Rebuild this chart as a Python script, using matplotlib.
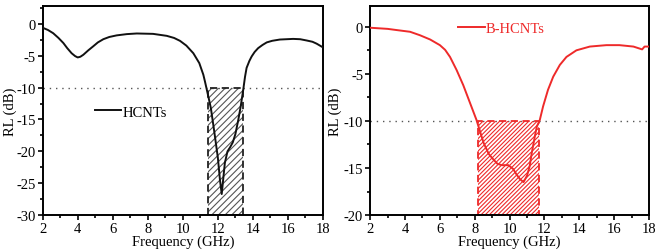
import matplotlib
matplotlib.use("Agg")
import matplotlib.pyplot as plt
from matplotlib.ticker import MultipleLocator
from matplotlib.patches import Rectangle

plt.rcParams['font.family'] = ['Liberation Serif', 'DejaVu Serif']
plt.rcParams['hatch.linewidth'] = 0.8
plt.rcParams['axes.unicode_minus'] = False

# HCNTs
f1 = [2.0, 2.3, 2.6, 2.9, 3.18, 3.4, 3.65, 3.85, 4.0, 4.15, 4.32, 4.6, 4.89, 5.15, 5.46,
      5.8, 6.22, 6.8, 7.37, 8.3, 9.08, 9.5, 9.84, 10.2, 10.6, 10.94, 11.17, 11.26, 11.4,
      11.6, 11.8, 12.0, 12.12, 12.22, 12.3, 12.4, 12.55, 12.69, 12.85, 13.0, 13.17,
      13.3, 13.45, 13.55, 13.64, 13.8, 13.93, 14.1, 14.3, 14.55, 14.79, 15.1, 15.54,
      16.3, 16.7, 17.07, 17.4, 17.64, 17.98]
rl1 = [-0.6, -0.95, -1.46, -2.2, -3.0, -3.8, -4.6, -5.05, -5.26, -5.15, -4.84, -4.15,
       -3.5, -2.9, -2.4, -2.05, -1.8, -1.6, -1.5, -1.56, -1.87, -2.2, -2.66, -3.4, -4.6,
       -6.15, -7.97, -9.0, -10.7, -13.2, -17.0, -21.0, -24.5, -26.7, -24.5, -21.8,
       -20.0, -19.4, -18.6, -17.3, -15.0, -13.0, -10.3, -8.3, -6.9, -5.8, -5.1, -4.4,
       -3.8, -3.3, -2.9, -2.65, -2.45, -2.35, -2.4, -2.6, -2.8, -3.1, -3.65]
band1 = (11.42, 13.45)

# B-HCNTs
f2 = [2.0, 3.0, 3.53, 4.29, 4.86, 5.44, 6.0, 6.3, 6.58, 6.96, 7.34, 7.73, 8.1, 8.3,
      8.5, 8.8, 9.07, 9.3, 9.55, 9.93, 10.2, 10.4, 10.6, 10.8, 11.0, 11.15, 11.27,
      11.45, 11.56, 11.73, 11.92, 12.2, 12.5, 12.88, 13.26, 13.83, 14.6, 15.55, 16.3,
      17.1, 17.6, 17.74, 18.0]
rl2 = [-0.1, -0.22, -0.35, -0.53, -0.9, -1.35, -1.95, -2.45, -3.2, -4.6, -6.2, -8.1,
       -9.9, -11.1, -12.3, -13.5, -14.1, -14.55, -14.7, -14.7, -15.1, -15.7, -16.2,
       -16.5, -15.8, -14.8, -13.4, -11.6, -10.6, -9.9, -8.45, -6.7, -5.3, -4.05, -3.2,
       -2.5, -2.1, -1.95, -1.95, -2.1, -2.4, -2.1, -2.1]
band2 = (8.17, 11.69)

xticks = [2, 4, 6, 8, 10, 12, 14, 16, 18]
red = '#ee2a2a'

fig = plt.figure(figsize=(6.61, 2.53), dpi=100)
ax1 = fig.add_axes([0.0646, 0.146, 0.424, 0.826])
ax2 = fig.add_axes([0.560, 0.146, 0.422, 0.826])

def style(ax, ylim, ymajor, lx):
    ax.set_xlim(2, 18)
    ax.set_ylim(*ylim)
    ax.set_xticks(xticks)
    ax.xaxis.set_minor_locator(MultipleLocator(1))
    ax.yaxis.set_major_locator(MultipleLocator(ymajor))
    ax.yaxis.set_minor_locator(MultipleLocator(ymajor / 2))
    ax.tick_params(which='both', direction='out', top=False, right=False,
                   labelsize=10.5, width=1.2, pad=1.5)
    ax.tick_params(which='major', length=3.5)
    ax.tick_params(which='minor', length=2)
    for s in ax.spines.values():
        s.set_linewidth(1.4)
    ax.set_xlabel('Frequency (GHz)', fontsize=10.5, labelpad=0)
    ax.set_ylabel('RL (dB)', fontsize=10.5)
    ax.yaxis.set_label_coords(lx, 0.5)
    ax.axhline(-10, color='#555555', ls=(0, (1, 3.5)), lw=1.0)

style(ax1, (-30, 2.8), 5, -0.092)
style(ax2, (-20, 2.2), 5, -0.1)

ax1.add_patch(Rectangle((band1[0], -30), band1[1] - band1[0], 20, facecolor='none',
                        edgecolor='#555555', hatch='/////', lw=0, zorder=2))
ax1.add_patch(Rectangle((band1[0], -30), band1[1] - band1[0], 20, facecolor='none',
                        edgecolor='#222222', lw=1.3, ls=(0, (4, 2.5)), zorder=2))
ax1.plot(f1, rl1, color='#111111', lw=1.4, label='HCNTs', zorder=3)

ax2.add_patch(Rectangle((band2[0], -20), band2[1] - band2[0], 10, facecolor='none',
                        edgecolor=red, hatch='////////', lw=1.3, ls=(0, (4, 2.5)),
                        zorder=2))
ax2.plot(f2, rl2, color=red, lw=1.4, label='B-HCNTs', zorder=3)

leg1 = ax1.legend(loc='upper left', bbox_to_anchor=(0.16, 0.56), frameon=False,
                  fontsize=10.5, handlelength=1.8, handletextpad=0.1, borderpad=0)
leg2 = ax2.legend(loc='upper left', bbox_to_anchor=(0.29, 0.96), frameon=False,
                  fontsize=10.5, handlelength=1.8, handletextpad=0.1, borderpad=0)
for t in leg2.get_texts():
    t.set_color(red)

fig.savefig('out.png', dpi=100)
